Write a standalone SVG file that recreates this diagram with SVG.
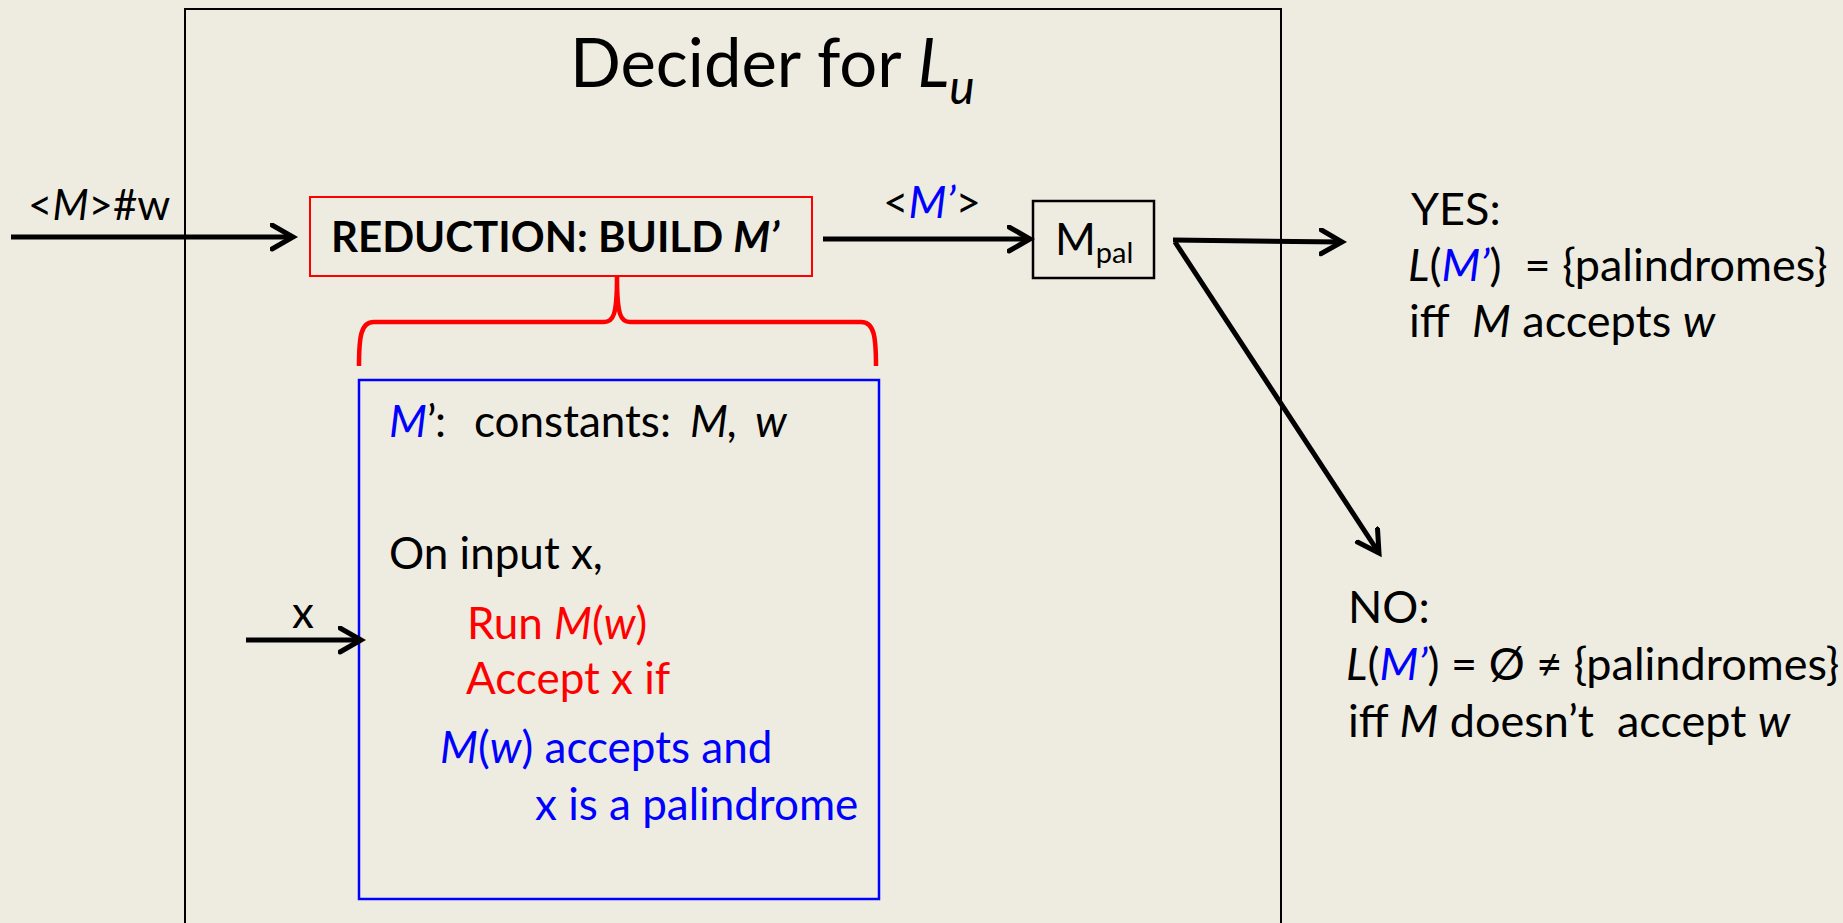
<svg xmlns="http://www.w3.org/2000/svg" width="1843" height="923" viewBox="0 0 1843 923">
<defs>
<style>
text{font-family:Lato,"Liberation Sans",sans-serif;font-size:44px;fill:#000}
.i{font-style:italic}
.b{fill:#0000FF}
.r{fill:#FF0000}
.rt{font-size:45px;white-space:pre}
.conn{stroke:#000;stroke-width:5;fill:none;marker-end:url(#arr)}
</style>
<marker id="arr" markerUnits="userSpaceOnUse" markerWidth="40" markerHeight="40" refX="23" refY="14" orient="auto" viewBox="0 0 40 40">
<path d="M2,2 L23,14 L2,26" fill="none" stroke="#000" stroke-width="5" stroke-linecap="round" stroke-linejoin="miter"/>
</marker>
</defs>
<rect width="1843" height="923" fill="#EEECE1"/>
<g id="decider">
<rect x="185" y="9" width="1096" height="1000" fill="none" stroke="#000" stroke-width="2"/>
<text x="570" y="87" style="font-size:67px">Decider for <tspan class="i">L</tspan><tspan class="i" style="font-size:48px" dy="17">u</tspan></text>
</g>
<g id="reduction">
<rect x="310" y="197" width="502" height="79" fill="none" stroke="#FF0000" stroke-width="2"/>
<text x="331" y="252" style="font-size:42px;font-weight:bold">REDUCTION: BUILD <tspan class="i">M’</tspan></text>
</g>
<g id="brace">
<path d="M359,366 C359,336 361,322 374,322 L604,322 C613,322 617,316 617,277 C617,316 621,322 630,322 L861,322 C874,322 876,336 876,366" fill="none" stroke="#FF0000" stroke-width="4.5"/>
</g>
<g id="mprime">
<rect x="359" y="380" width="520" height="519" fill="none" stroke="#0000FF" stroke-width="2.5"/>
<text y="437"><tspan x="389" class="i b">M</tspan>’<tspan x="435">:</tspan><tspan x="474">constants:</tspan><tspan x="690" class="i">M,</tspan><tspan x="755" class="i">w</tspan></text>
<text x="389" y="569">On input x,</text>
<text x="467" y="639" class="r">Run <tspan class="i r">M</tspan>(<tspan class="i r">w</tspan>)</text>
<text x="466" y="694" class="r">Accept x if</text>
<text x="440" y="763" class="b"><tspan class="i b">M</tspan>(<tspan class="i b">w</tspan>) accepts and</text>
<text x="535" y="820" class="b">x is a palindrome</text>
</g>
<g id="mpal">
<rect x="1033" y="201" width="121" height="77" fill="none" stroke="#000" stroke-width="2.5"/>
<text x="1055" y="255">M<tspan style="font-size:29px" dy="8">pal</tspan></text>
</g>
<g id="yes">
<text x="1411" y="225" class="rt">YES:</text>
<text x="1408" y="281" class="rt"><tspan class="i">L</tspan>(<tspan class="i b">M’</tspan>)  = {palindromes}</text>
<text x="1409" y="337" class="rt">iff  <tspan class="i">M</tspan> accepts <tspan class="i">w</tspan></text>
</g>
<g id="no">
<text x="1348" y="623" class="rt">NO:</text>
<text x="1346" y="680" class="rt"><tspan class="i">L</tspan>(<tspan class="i b">M’</tspan>) = Ø ≠ {palindromes}</text>
<text x="1348" y="737" class="rt">iff <tspan class="i">M</tspan> doesn’t  accept <tspan class="i">w</tspan></text>
</g>
<g id="labels">
<text x="28" y="220" style="font-size:42px">&lt;<tspan class="i">M</tspan>&gt;#w</text>
<text x="883" y="218">&lt;<tspan class="i b">M’</tspan>&gt;</text>
<text x="292" y="628">x</text>
</g>
<g id="connectors">
<line class="conn" x1="11" y1="237" x2="293" y2="237"/>
<line class="conn" x1="823" y1="239" x2="1030" y2="239"/>
<line class="conn" x1="1173" y1="240" x2="1342" y2="242"/>
<line class="conn" x1="1175" y1="242" x2="1379" y2="553"/>
<line class="conn" x1="246" y1="640" x2="361" y2="640"/>
</g>
</svg>
